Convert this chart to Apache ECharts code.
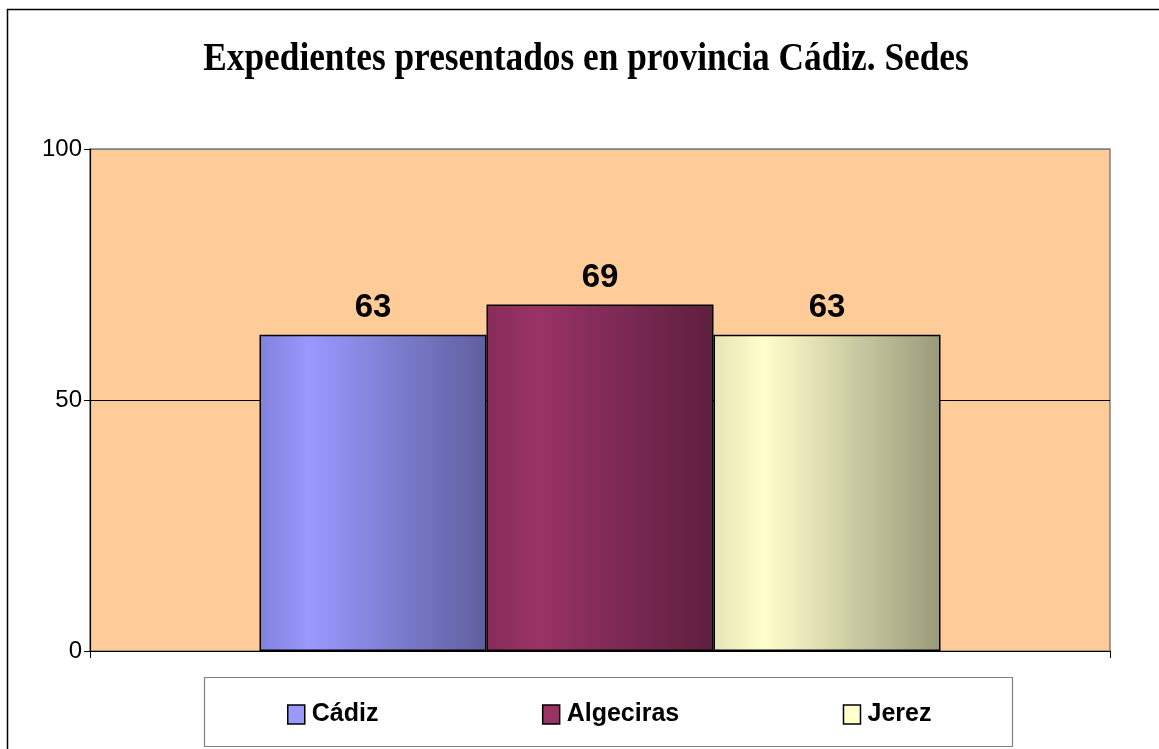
<!DOCTYPE html>
<html>
<head>
<meta charset="utf-8">
<script src="https://cdn.jsdelivr.net/npm/echarts@6/dist/echarts.min.js"></script>
<style>
    html, body { margin: 0; padding: 0; background: #fff; }
    #chart_con { width: 1159px; height: 749px; }
</style>
</head>
<body>
<div id="chart_con"></div>
<script>
// datos del gráfico
var titulo = 'Expedientes presentados en provincia Cádiz. Sedes';
var categorias = [''];
var sedes = ['Cádiz', 'Algeciras', 'Jerez'];
var expedientes = [63, 69, 63];
var ticksY = [0, 50, 100];

// colores base y degradado de cada barra
var colores = ['#9999ff', '#993366', '#ffffcc'];
var degradados = [
    ['#8282dc', '#9999ff', '#5f5f9e'],
    ['#862d59', '#993366', '#5e1f3f'],
    ['#e4e4b6', '#ffffcc', '#9a9a7b']
];

function relleno (g) {
    return new echarts.graphic.LinearGradient(0, 0, 1, 0, [
        {offset: 0, color: g[0]},
        {offset: 0.22, color: g[1]},
        {offset: 1, color: g[2]}
    ]);
}

var chart = echarts.init(document.getElementById('chart_con'));

var series = sedes.map(function (nombre, i) {
    return {
        name: nombre,
        type: 'bar',
        data: [expedientes[i]],
        barWidth: 227,
        barGap: '0%',
        itemStyle: {
            color: relleno(degradados[i]),
            borderColor: '#000',
            borderWidth: 1.5
        },
        label: {
            show: true,
            position: 'top',
            distance: 10,
            color: '#000',
            fontFamily: 'Liberation Sans, Arial, sans-serif',
            fontWeight: 'bold',
            fontSize: 33
        },
        emphasis: {disabled: true}
    };
});

chart.setOption({
    animation: false,
    backgroundColor: '#fff',
    graphic: [
        {
            type: 'rect',
            shape: {x: 7.5, y: 9.5, width: 1200, height: 800},
            style: {fill: 'none', stroke: '#000', lineWidth: 1.5},
            silent: true
        },
        {
            type: 'rect',
            shape: {x: 204.5, y: 677.5, width: 808, height: 69},
            style: {fill: '#fff', stroke: '#808080', lineWidth: 1.2},
            silent: true
        },
        {
            type: 'text',
            x: 586,
            y: 60,
            originX: 0,
            scaleX: 0.905,
            style: {
                text: titulo,
                font: 'bold 39px "Liberation Serif", "Times New Roman", serif',
                fill: '#000',
                align: 'center',
                verticalAlign: 'middle'
            },
            silent: true
        }
    ],
    grid: {
        left: 90,
        right: 49,
        top: 149,
        bottom: 98,
        show: true,
        backgroundColor: '#ffcc99',
        borderColor: '#808080',
        borderWidth: 1.5
    },
    legend: {
        left: 282,
        top: 697,
        itemWidth: 17,
        itemHeight: 19,
        itemGap: 163.5,
        icon: 'rect',
        selectedMode: false,
        textStyle: {
            color: '#000',
            fontFamily: 'Liberation Sans, Arial, sans-serif',
            fontWeight: 'bold',
            fontSize: 25,
            padding: [0, 0, 0, 2]
        },
        data: sedes.map(function (nombre, i) {
            return {name: nombre, itemStyle: {color: colores[i], borderColor: '#000', borderWidth: 1.5}};
        })
    },
    xAxis: {
        type: 'category',
        data: categorias,
        axisLine: {lineStyle: {color: '#000', width: 1.2}},
        axisTick: {show: true, length: 7, lineStyle: {color: '#000'}},
        axisLabel: {show: false}
    },
    yAxis: {
        type: 'value',
        min: ticksY[0],
        max: ticksY[ticksY.length - 1],
        interval: 50,
        axisLine: {show: true, lineStyle: {color: '#000', width: 1.2}},
        axisTick: {show: true, length: 6, lineStyle: {color: '#000'}},
        axisLabel: {
            color: '#000',
            fontFamily: 'Liberation Sans, Arial, sans-serif',
            fontSize: 24,
            margin: 8,
            verticalAlign: 'middle',
            padding: [3, 0, 0, 0]
        },
        splitLine: {show: true, lineStyle: {color: ['#000', '#000', '#808080'], width: 1}}
    },
    series: series
});
</script>
</body>
</html>
